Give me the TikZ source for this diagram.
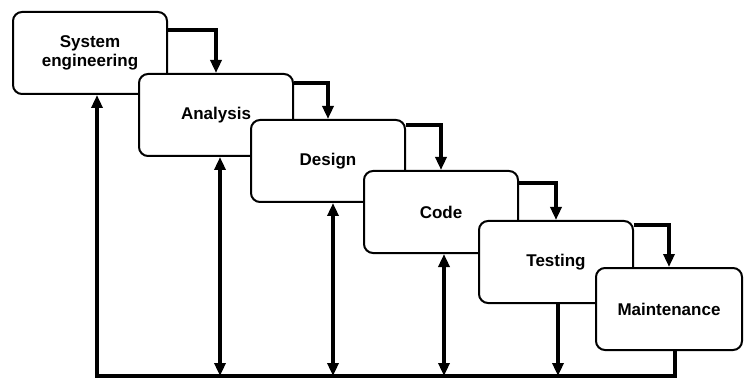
\documentclass[tikz,border=0pt]{standalone}
\usepackage{fontspec}
\setmainfont{Liberation Sans}
\usetikzlibrary{arrows.meta}
\begin{document}
\begin{tikzpicture}[x=1pt,y=-1pt,
  phase/.style={draw,fill=white,line width=2pt,rounded corners=9pt,anchor=north west,
    minimum width=154pt,minimum height=82pt,inner sep=0pt,align=center,
    font=\fontsize{17}{19}\selectfont\bfseries},
  flow/.style={line width=3.4pt,-{Triangle[length=13pt,width=11pt]}},
  back/.style={line width=3.4pt,{Triangle[length=13pt,width=11pt]}-{Triangle[length=13pt,width=11pt]}}]
\useasboundingbox (0,0) rectangle (744,382);
\node [phase] (sys) at (12,11) {System\\engineering};
\node [phase] (ana) at (138,73) {Analysis};
\node [phase] (des) at (250,119) {Design};
\node [phase] (cod) at (363,170) {Code};
\node [phase] (tst) at (478,220) {Testing};
\node [phase,minimum width=146pt] (mnt) at (595,267) {Maintenance};
% steps down
\draw [flow] ([yshift=-19pt]sys.north east) -| (ana.north);
\draw [flow] ([yshift=-10pt]ana.north east) -| (des.north);
\draw [flow] ([yshift=-6pt]des.north east) -| (cod.north);
\draw [flow] ([yshift=-13pt]cod.north east) -| (tst.north);
\draw [flow] ([yshift=-5pt]tst.north east) -| (mnt.north);
% way back
\coordinate (b1) at (97,376);
\coordinate (b6) at (675,376);
\draw [flow] (mnt.south -| b6) -- (b6) -- (b1) -- (b1 |- sys.south);
\foreach \n/\d in {ana/4,des/5,cod/3}
  \draw [back] ([xshift=\d pt]\n.south) -- ([xshift=\d pt]\n.south |- b1);
\draw [flow] ([xshift=2pt]tst.south) -- ([xshift=2pt]tst.south |- b1);
\end{tikzpicture}
\end{document}
